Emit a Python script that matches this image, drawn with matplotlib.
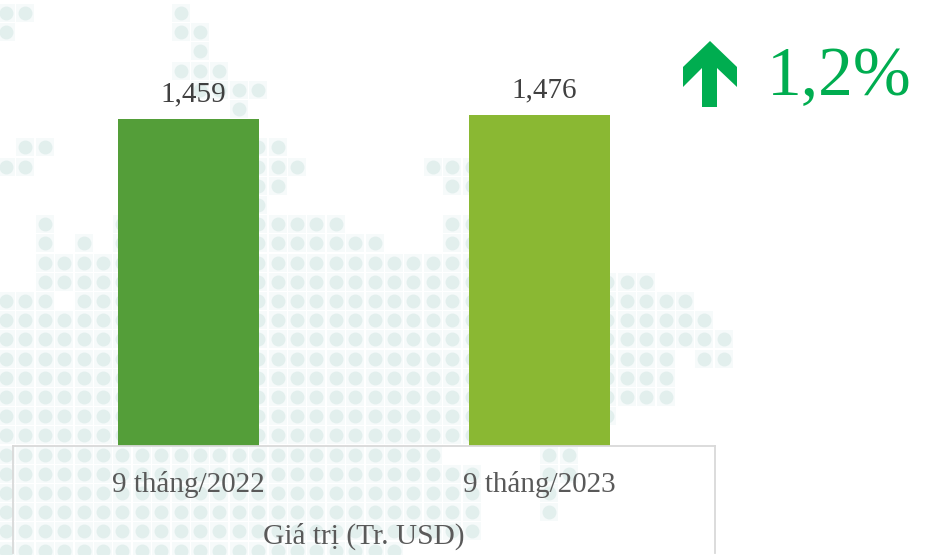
import matplotlib
matplotlib.use("Agg")
import matplotlib.pyplot as plt
from matplotlib.patches import Polygon

categories = ["9 tháng/2022", "9 tháng/2023"]
values = [1459, 1476]
bar_colors = ["#549E39", "#8AB833"]
axis_title = "Giá trị (Tr. USD)"
change_label = "1,2%"

# decorative dot-map background: for each grid row, the (first, last) grid columns filled
dot_rows = [
    [(0, 1), (9, 9)], [(0, 0), (9, 10)], [(10, 10)], [(9, 11)], [(10, 13)], [(12, 12)], [],
    [(1, 2), (13, 14)], [(0, 1), (13, 15), (22, 24)], [(13, 14), (23, 24)], [(13, 13)],
    [(2, 2), (6, 6), (13, 17), (23, 24)], [(2, 2), (4, 4), (6, 6), (13, 19), (23, 24)],
    [(2, 24)], [(2, 33)], [(0, 2), (4, 35)], [(0, 36)], [(0, 37)], [(0, 34), (36, 37)],
    [(0, 34)], [(0, 34)], [(0, 31)], [(0, 24)], [(0, 22), (28, 29)], [(0, 24), (28, 29)],
    [(0, 24), (28, 28)], [(0, 24), (28, 28)], [(0, 24)], [(0, 20)],
]

W, H = 935, 555
fig = plt.figure(figsize=(W / 100, H / 100), dpi=100, facecolor="white")
plt.rcParams["font.family"] = ["Liberation Serif", "DejaVu Serif"]

# pixel-space layer for the decoration
bg = fig.add_axes([0, 0, 1, 1], zorder=0)
bg.set_xlim(0, W)
bg.set_ylim(H, 0)
bg.axis("off")
xs, ys = [], []
for r, spans in enumerate(dot_rows):
    for a, b in spans:
        for c in range(a, b + 1):
            xs.append(6 + 19.4 * c)
            ys.append(13 + 19.2 * r)
bg.scatter(xs, ys, marker="s", s=150, color="#F6FAFA", linewidths=0)
bg.scatter(xs, ys, marker="o", s=100, color="#E2EFED", linewidths=0)

# chart
baseline_px, top_px, bottom_px = 445.5, 43.0, 552.8
left_px, right_px = 13.0, 715.0
scale = 0.2238
ax = fig.add_axes([left_px / W, 1 - bottom_px / H, (right_px - left_px) / W, (bottom_px - top_px) / H], zorder=1)
ax.patch.set_alpha(0)
ax.set_xlim(-0.5, 1.5)
ax.set_ylim(-(bottom_px - baseline_px) / scale, (baseline_px - top_px) / scale)
bars = ax.bar(range(len(values)), values, width=0.4, color=bar_colors, linewidth=0)
for b, v in zip(bars, values):
    ax.annotate(f"{v:,}", (b.get_x() + b.get_width() / 2, v), xytext=(3.2, 12.8), textcoords="offset points",
                ha="center", va="baseline", fontsize=21, color="#404040")
ax.spines["top"].set_visible(False)
ax.spines["bottom"].set_position(("data", 0))
for s in ("left", "right", "bottom"):
    ax.spines[s].set_color("#D9D9D9")
    ax.spines[s].set_linewidth(1.3)
ax.spines["left"].set_bounds(ax.get_ylim()[0], 0)
ax.spines["right"].set_bounds(ax.get_ylim()[0], 0)
ax.set_yticks([])
ax.set_xticks(range(len(categories)), categories)
ax.tick_params(axis="x", length=0, pad=18, labelsize=21, labelcolor="#595959")
ax.set_xlabel(axis_title, fontsize=21.2, color="#595959", va="center")
ax.xaxis.set_label_coords(0.5, (bottom_px - 536) / (bottom_px - top_px))

# change indicator
fg = fig.add_axes([0, 0, 1, 1], zorder=2)
fg.set_xlim(0, W)
fg.set_ylim(H, 0)
fg.axis("off")
fg.add_patch(Polygon([(710, 41), (737, 67), (737, 87), (717, 68), (717, 107), (702, 107), (702, 68), (683, 87), (683, 67)],
                     closed=True, facecolor="#00AD50", edgecolor="none"))
fg.text(767, 95.5, change_label, fontsize=50, color="#00AD50", ha="left", va="baseline")

fig.savefig("out.png", dpi=100)
